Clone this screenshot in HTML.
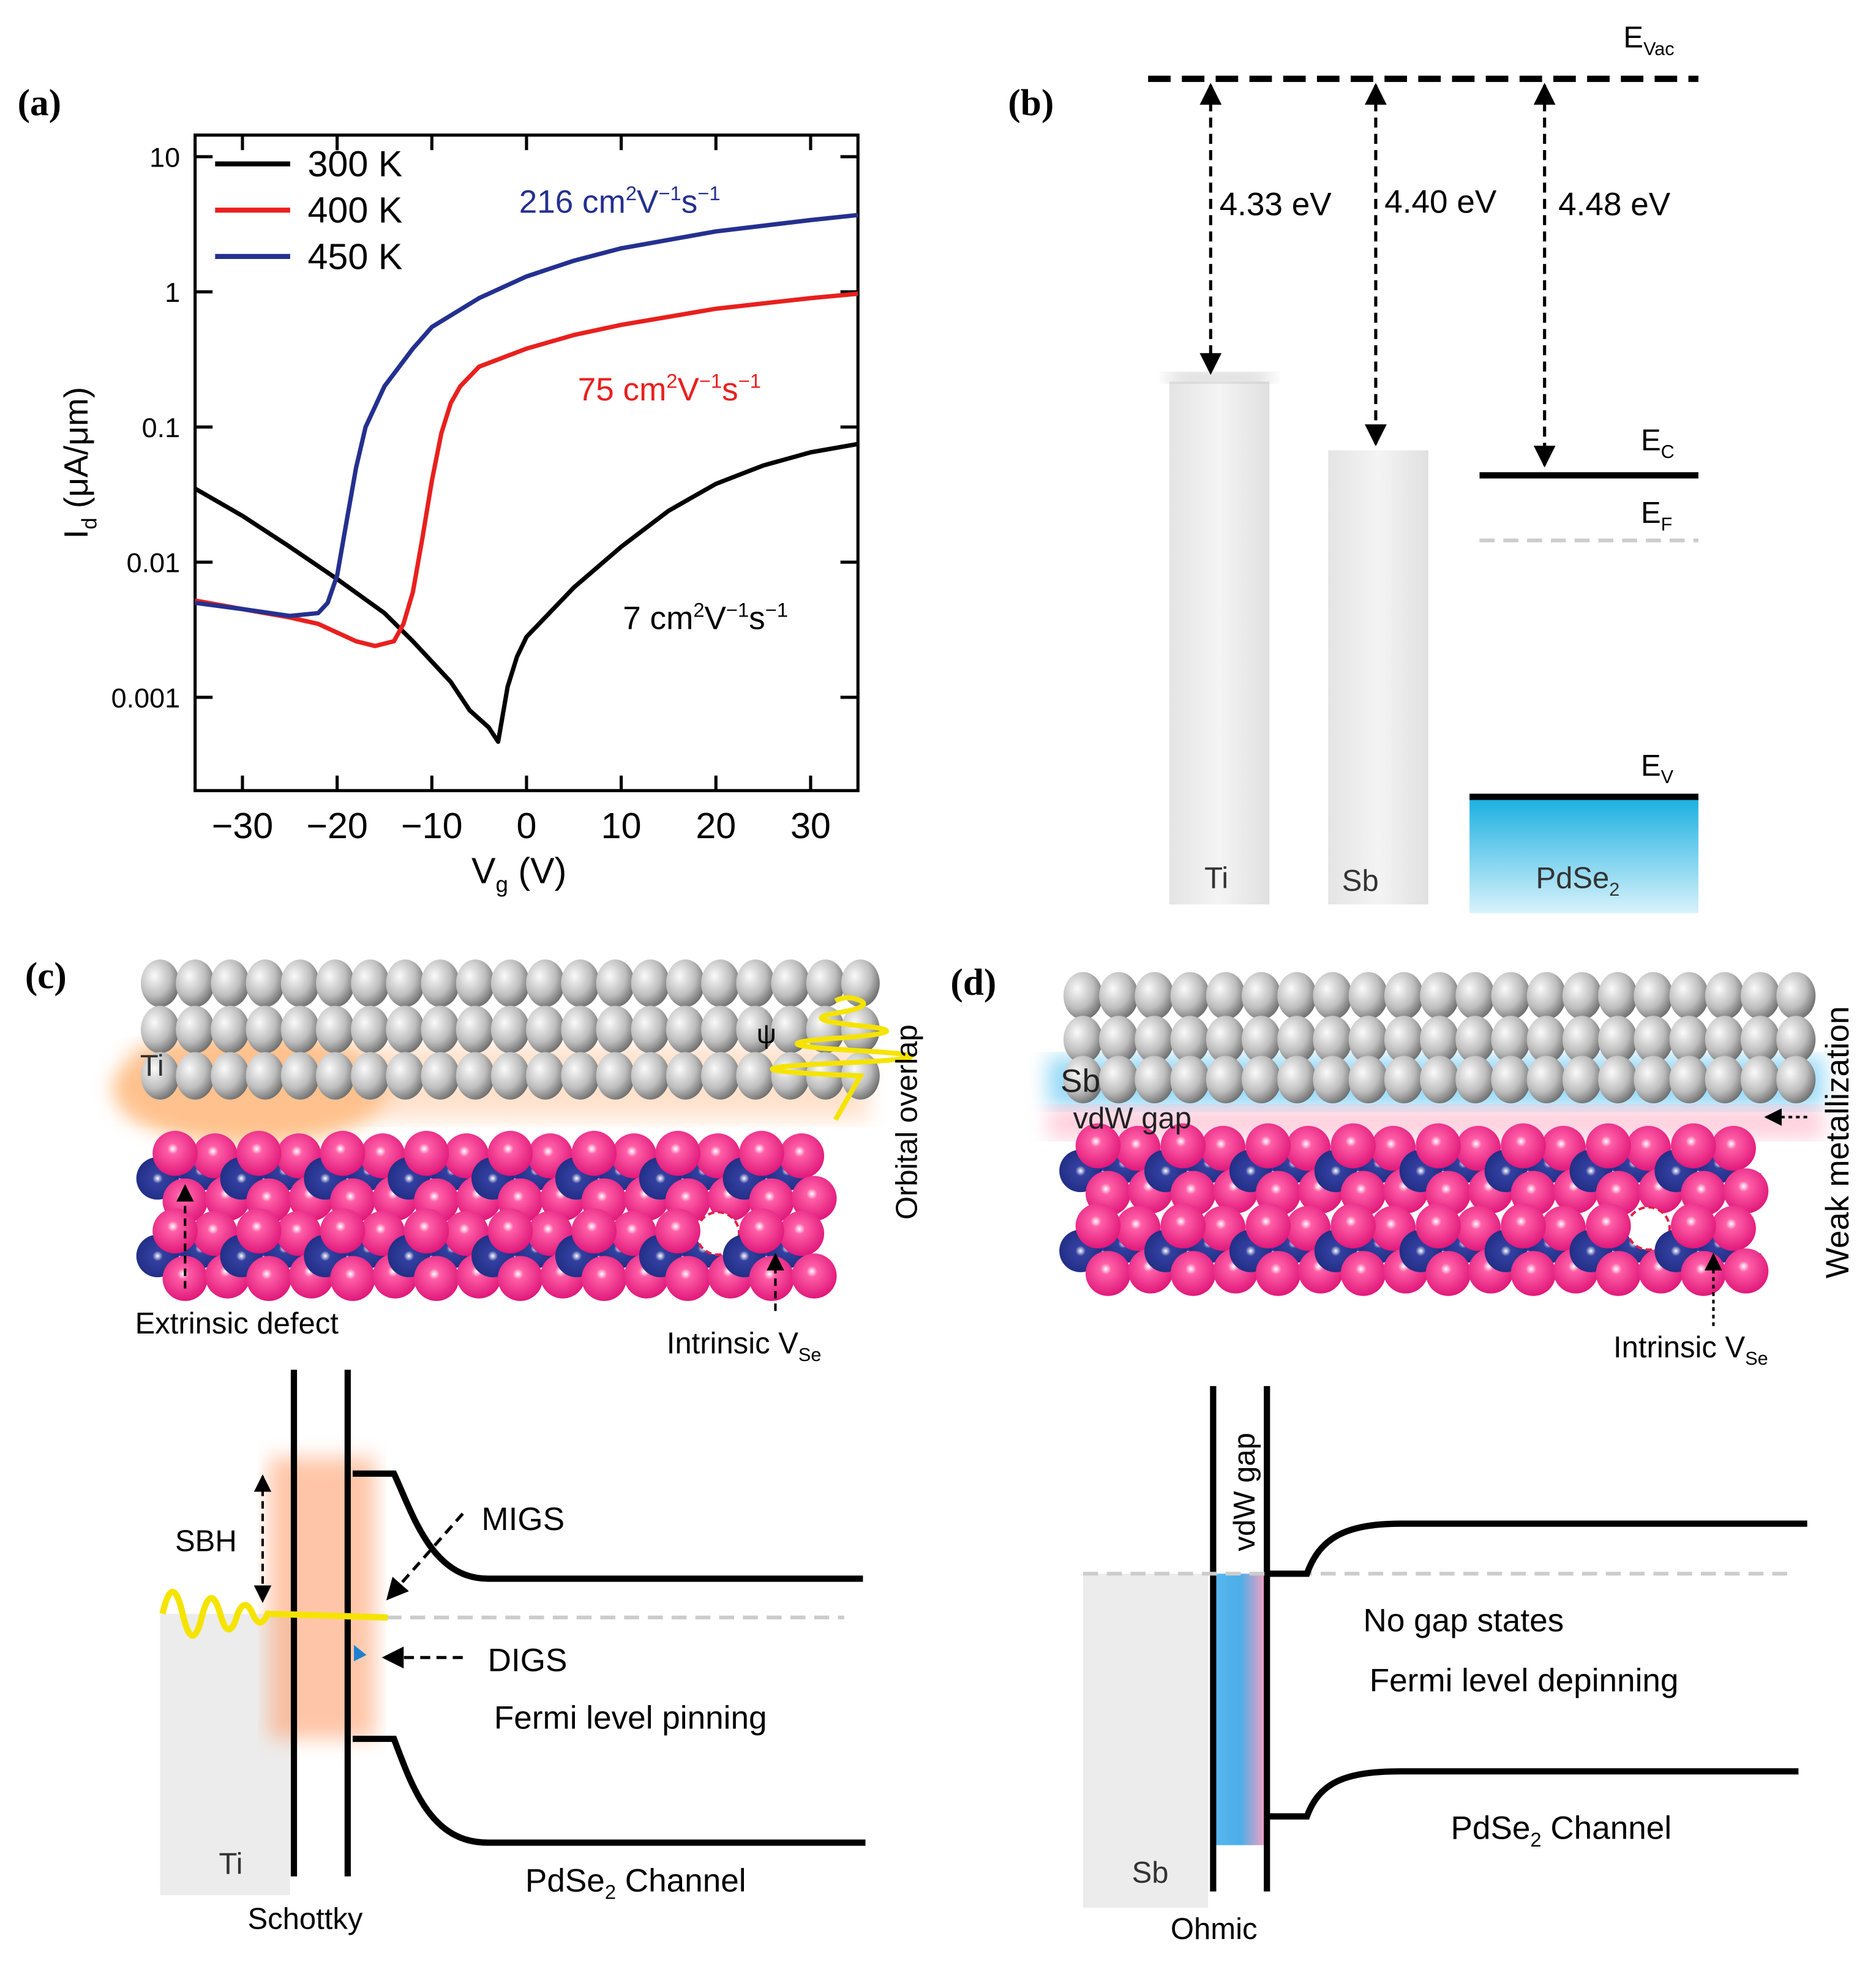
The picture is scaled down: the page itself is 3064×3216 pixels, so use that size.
<!DOCTYPE html>
<html><head><meta charset="utf-8"><style>
html,body{margin:0;padding:0;background:#fff}
svg{display:block}
text{font-family:"Liberation Sans",sans-serif}
.lbl{font-family:"Liberation Serif",serif;font-weight:bold;font-size:30px}
</style></head><body>
<svg id="fig" width="3064" height="3216" viewBox="0 0 1500 1574" preserveAspectRatio="none" xmlns="http://www.w3.org/2000/svg">
<defs>
<radialGradient id="gs" cx="0.35" cy="0.35" r="0.7"><stop offset="0" stop-color="#fafafa"/><stop offset="0.6" stop-color="#bdbdbd"/><stop offset="1" stop-color="#6f6f6f"/></radialGradient>
<radialGradient id="ps" cx="0.45" cy="0.4" r="0.6"><stop offset="0" stop-color="#fff"/><stop offset="0.2" stop-color="#ff5fa8"/><stop offset="1" stop-color="#e0187a"/></radialGradient>
<radialGradient id="bs" cx="0.5" cy="0.5" r="0.6"><stop offset="0" stop-color="#fff"/><stop offset="0.2" stop-color="#3340a0"/><stop offset="1" stop-color="#1e2a80"/></radialGradient>
<linearGradient id="blueg" x1="0" y1="0" x2="0" y2="1"><stop offset="0" stop-color="#1ab0e0"/><stop offset="1" stop-color="#d8f2fb"/></linearGradient>
<linearGradient id="barg" x1="0" y1="0" x2="1" y2="0"><stop offset="0" stop-color="#e4e4e4"/><stop offset="0.5" stop-color="#f4f4f4"/><stop offset="1" stop-color="#e0e0e0"/></linearGradient>
<linearGradient id="bandd" x1="0" y1="0" x2="1" y2="0"><stop offset="0" stop-color="#5ab8ee"/><stop offset="0.5" stop-color="#4aaee8"/><stop offset="1" stop-color="#ff9fc0"/></linearGradient>
<filter id="blur"><feGaussianBlur stdDeviation="8"/></filter>
<marker id="ah" viewBox="0 0 10 10" refX="9" refY="5" markerWidth="7" markerHeight="7" orient="auto-start-reverse"><path d="M0,0L10,5L0,10z" fill="#000"/></marker>
</defs>

<text class="lbl" x="14" y="92">(a)</text>
<g id="chartA"></g>

<g>
<text class="lbl" x="806" y="92">(b)</text>
<line x1="918" y1="63" x2="1358" y2="63" stroke="#000" stroke-width="5" stroke-dasharray="18,9"/>
<text x="1298" y="38" font-size="24">E<tspan font-size="15" dy="6">Vac</tspan></text>
<rect x="935" y="305" width="80" height="418" fill="url(#barg)"/>
<rect x="935" y="298" width="80" height="8" fill="#bbb" filter="url(#blur)"/>
<rect x="1062" y="360" width="80" height="363" fill="url(#barg)"/>
<line x1="968" y1="68" x2="968" y2="298" stroke="#000" stroke-width="2.5" stroke-dasharray="8,5" marker-start="url(#ah)" marker-end="url(#ah)"/>
<line x1="1100" y1="68" x2="1100" y2="355" stroke="#000" stroke-width="2.5" stroke-dasharray="8,5" marker-start="url(#ah)" marker-end="url(#ah)"/>
<line x1="1235" y1="68" x2="1235" y2="372" stroke="#000" stroke-width="2.5" stroke-dasharray="8,5" marker-start="url(#ah)" marker-end="url(#ah)"/>
<text x="975" y="172" font-size="26">4.33 eV</text>
<text x="1107" y="170" font-size="26">4.40 eV</text>
<text x="1246" y="172" font-size="26">4.48 eV</text>
<line x1="1183" y1="380" x2="1358" y2="380" stroke="#000" stroke-width="5"/>
<text x="1312" y="360" font-size="24">E<tspan font-size="15" dy="6">C</tspan></text>
<line x1="1183" y1="432" x2="1358" y2="432" stroke="#ccc" stroke-width="3" stroke-dasharray="12,7"/>
<text x="1312" y="418" font-size="24">E<tspan font-size="15" dy="6">F</tspan></text>
<rect x="1175" y="638" width="183" height="92" fill="url(#blueg)"/>
<line x1="1175" y1="637" x2="1358" y2="637" stroke="#000" stroke-width="5"/>
<text x="1312" y="620" font-size="24">E<tspan font-size="15" dy="6">V</tspan></text>
<text x="963" y="710" font-size="24" fill="#333">Ti</text>
<text x="1073" y="712" font-size="24" fill="#333">Sb</text>
<text x="1228" y="710" font-size="24" fill="#333">PdSe<tspan font-size="15" dy="6">2</tspan></text>
</g>

<g>
<text class="lbl" x="20" y="790">(c)</text>
<ellipse cx="200" cy="870" rx="110" ry="45" fill="#ff9a40" opacity="0.6" filter="url(#blur)"/>
<rect x="105" y="835" width="590" height="60" fill="#ffc090" opacity="0.45" filter="url(#blur)"/>
<g id="atomsC"></g>
<text x="112" y="860" font-size="24" fill="#333">Ti</text>
<text x="605" y="834" font-size="22">ψ</text>
<path d="M668,800 q10,-5 20,0 t-20,10 t20,10 t-20,10 t20,10 t-20,10 t20,10 L668,895" fill="none" stroke="#f5e400" stroke-width="4"/>
<text transform="translate(733,975) rotate(-90)" font-size="24">Orbital overlap</text>
<line x1="148" y1="1030" x2="148" y2="948" stroke="#000" stroke-width="2" stroke-dasharray="6,4" marker-end="url(#ah)"/>
<text x="108" y="1066" font-size="24">Extrinsic defect</text>
<line x1="620" y1="1048" x2="620" y2="1003" stroke="#000" stroke-width="2" stroke-dasharray="6,4" marker-end="url(#ah)"/>
<text x="533" y="1082" font-size="24">Intrinsic V<tspan font-size="15" dy="6">Se</tspan></text>
<rect x="128" y="1290" width="104" height="225" fill="#ececec"/>
<rect x="215" y="1165" width="85" height="225" fill="#ffa070" opacity="0.6" filter="url(#blur)"/>
<line x1="235" y1="1095" x2="235" y2="1500" stroke="#000" stroke-width="5"/>
<line x1="278" y1="1095" x2="278" y2="1500" stroke="#000" stroke-width="5"/>
<path d="M282,1178 L315,1178 C330,1210 345,1262 390,1262 L690,1262" fill="none" stroke="#000" stroke-width="5"/>
<path d="M282,1390 L315,1390 C330,1430 345,1473 390,1473 L692,1473" fill="none" stroke="#000" stroke-width="5"/>
<line x1="290" y1="1293" x2="675" y2="1293" stroke="#ccc" stroke-width="3" stroke-dasharray="12,7"/>
<path d="M130,1290 q8,-35 16,0 t16,0 q7,-25 14,0 t14,0 q6,-14 12,0 t12,0 L310,1293" fill="none" stroke="#f5e400" stroke-width="5"/>
<line x1="210" y1="1180" x2="210" y2="1280" stroke="#000" stroke-width="2" stroke-dasharray="6,4" marker-start="url(#ah)" marker-end="url(#ah)"/>
<text x="140" y="1240" font-size="24">SBH</text>
<line x1="370" y1="1210" x2="310" y2="1278" stroke="#000" stroke-width="2.5" stroke-dasharray="8,5" marker-end="url(#ah)"/>
<text x="385" y="1223" font-size="26">MIGS</text>
<line x1="370" y1="1325" x2="307" y2="1325" stroke="#000" stroke-width="2.5" stroke-dasharray="8,5" marker-end="url(#ah)"/>
<path d="M283,1315 l10,8 l-10,5 z" fill="#1e7fd0"/>
<text x="390" y="1336" font-size="26">DIGS</text>
<text x="395" y="1382" font-size="26">Fermi level pinning</text>
<text x="175" y="1498" font-size="24" fill="#333">Ti</text>
<text x="420" y="1512" font-size="26">PdSe<tspan font-size="16" dy="6">2</tspan><tspan dy="-6"> Channel</tspan></text>
<text x="198" y="1542" font-size="24">Schottky</text>
</g>

<g>
<text class="lbl" x="760" y="795">(d)</text>
<rect x="838" y="845" width="620" height="40" fill="#7fd0f5" opacity="0.8" filter="url(#blur)"/>
<rect x="838" y="885" width="620" height="25" fill="#ffb0c8" opacity="0.6" filter="url(#blur)"/>
<g id="atomsD"></g>
<text x="848" y="873" font-size="26" fill="#222">Sb</text>
<text x="858" y="902" font-size="24" fill="#222">vdW gap</text>
<line x1="1445" y1="893" x2="1412" y2="893" stroke="#000" stroke-width="2" stroke-dasharray="3,3" marker-end="url(#ah)"/>
<text transform="translate(1478,1022) rotate(-90)" font-size="26">Weak metallization</text>
<line x1="1370" y1="1060" x2="1370" y2="1003" stroke="#000" stroke-width="2" stroke-dasharray="3,3" marker-end="url(#ah)"/>
<text x="1290" y="1085" font-size="24">Intrinsic V<tspan font-size="15" dy="6">Se</tspan></text>
<rect x="866" y="1258" width="100" height="267" fill="#ececec"/>
<rect x="970" y="1258" width="43" height="217" fill="url(#bandd)"/>
<line x1="970" y1="1108" x2="970" y2="1512" stroke="#000" stroke-width="5"/>
<line x1="1013" y1="1108" x2="1013" y2="1512" stroke="#000" stroke-width="5"/>
<text transform="translate(1003,1240) rotate(-90)" font-size="24">vdW gap</text>
<line x1="866" y1="1258" x2="1430" y2="1258" stroke="#ccc" stroke-width="3" stroke-dasharray="12,7"/>
<path d="M1015,1258 L1045,1258 C1055,1230 1075,1218 1120,1218 L1445,1218" fill="none" stroke="#000" stroke-width="5"/>
<path d="M1015,1452 L1045,1452 C1055,1425 1075,1416 1120,1416 L1438,1416" fill="none" stroke="#000" stroke-width="5"/>
<text x="1090" y="1304" font-size="26">No gap states</text>
<text x="1095" y="1352" font-size="26">Fermi level depinning</text>
<text x="1160" y="1470" font-size="26">PdSe<tspan font-size="16" dy="6">2</tspan><tspan dy="-6"> Channel</tspan></text>
<text x="905" y="1505" font-size="24" fill="#333">Sb</text>
<text x="936" y="1550" font-size="24">Ohmic</text>
</g>
</svg>
<script>
const xTicks = [-30, -20, -10, 0, 10, 20, 30];
const yTicks = [10, 1, 0.1, 0.01, 0.001];
const yTickLabels = ["10", "1", "0.1", "0.01", "0.001"];
const seriesNames = ["300 K", "400 K", "450 K"];
const seriesColors = ["#000000", "#e8201e", "#24308f"];
const vg300 = [-35,-30,-25,-20,-15,-12,-8,-6,-4,-3,-2,-1,0,5,10,15,20,25,30,35];
const id300 = [0.035,0.022,0.013,0.0075,0.0042,0.0026,0.0013,0.0008,0.0006,0.00047,0.0012,0.002,0.0028,0.0065,0.013,0.024,0.038,0.052,0.065,0.075];
const vg400 = [-35,-30,-25,-22,-18,-16,-14,-13,-12,-11,-10,-9,-8,-7,-5,0,5,10,20,30,35];
const id400 = [0.0052,0.0045,0.0039,0.0035,0.0026,0.0024,0.0026,0.0035,0.006,0.015,0.04,0.09,0.15,0.2,0.28,0.38,0.48,0.57,0.75,0.9,0.97];
const vg450 = [-35,-30,-25,-22,-21,-20,-19,-18,-17,-15,-12,-10,-5,0,5,10,20,30,35];
const id450 = [0.005,0.0045,0.004,0.0042,0.005,0.008,0.02,0.05,0.1,0.2,0.38,0.55,0.9,1.3,1.7,2.1,2.8,3.4,3.7];
const NS = "http://www.w3.org/2000/svg";
const L = 156, R = 686, T = 108, B = 632;
const xMin = -35, xMax = 35, yLogMax = 1.16, yLogMin = -3.69;
function xs(v){ return L + (v - xMin) / (xMax - xMin) * (R - L); }
function ys(v){ return T + (yLogMax - Math.log10(v)) / (yLogMax - yLogMin) * (B - T); }
function mk(tag, attrs, parent){ const e = document.createElementNS(NS, tag); for (const k in attrs) e.setAttribute(k, attrs[k]); parent.appendChild(e); return e; }
const g = document.getElementById('chartA');
const box = mk('rect', {x:L, y:T, width:R-L, height:B-T, fill:'none', stroke:'#000', 'stroke-width':2.5}, g);


xTicks.forEach(function(v){
  const x = xs(v);
  mk('line', {x1:x, y1:B, x2:x, y2:B-12, stroke:'#000', 'stroke-width':2.5}, g);
  mk('line', {x1:x, y1:T, x2:x, y2:T+12, stroke:'#000', 'stroke-width':2.5}, g);
  const t = mk('text', {x:x, y:B+38, 'font-size':29, 'text-anchor':'middle'}, g);
  t.textContent = (v < 0 ? '\u2212' + (-v) : String(v));
  
  
});
yTicks.forEach(function(v, i){
  const y = ys(v);
  mk('line', {x1:L, y1:y, x2:L+14, y2:y, stroke:'#000', 'stroke-width':2.5}, g);
  mk('line', {x1:R, y1:y, x2:R-14, y2:y, stroke:'#000', 'stroke-width':2.5}, g);
  const t = mk('text', {x:L-12, y:y+8, 'font-size':22, 'text-anchor':'end'}, g);
  t.textContent = yTickLabels[i];
  
  
});
const xt = mk('text', {x:415, y:706, 'font-size':29, 'text-anchor':'middle'}, g);
xt.innerHTML = 'V<tspan font-size="18" dy="7">g</tspan><tspan dy="-7"> (V)</tspan>';


const yt = mk('text', {transform:'translate(70,370) rotate(-90)', 'font-size':27, 'text-anchor':'middle'}, g);
yt.innerHTML = 'I<tspan font-size="17" dy="7">d</tspan><tspan dy="-7"> (\u03bcA/\u03bcm)</tspan>';


const allX = [vg300, vg400, vg450], allY = [id300, id400, id450];
const seriesKeys = ['series-300k', 'series-400k', 'series-450k'];
[0,1,2].forEach(function(s){
  let d = '';
  allX[s].forEach(function(v, i){ d += (i ? 'L' : 'M') + xs(v).toFixed(1) + ',' + ys(allY[s][i]).toFixed(1); });
  const p = mk('path', {d:d, fill:'none', stroke:seriesColors[s], 'stroke-width':3.5, 'stroke-linejoin':'round'}, g);
  
  
  const ly = 131 + s*37;
  mk('line', {x1:172, y1:ly, x2:232, y2:ly, stroke:seriesColors[s], 'stroke-width':4}, g);
  const lt = mk('text', {x:246, y:ly+10, 'font-size':29}, g);
  lt.textContent = seriesNames[s];
  
  
});
function ann(x, y, color, num, name){
  const t = mk('text', {x:x, y:y, 'font-size':26, fill:color}, g);
  t.innerHTML = num + ' cm<tspan font-size="16" dy="-10">2</tspan><tspan dy="10">V</tspan><tspan font-size="16" dy="-10">\u22121</tspan><tspan dy="10">s</tspan><tspan font-size="16" dy="-10">\u22121</tspan>';
  
  
}
ann(415, 170, seriesColors[2], '216', 'mobility-450k');
ann(462, 320, seriesColors[1], '75', 'mobility-400k');
ann(498, 503, '#000', '7', 'mobility-300k');

function atoms(id, x0, n, step, rows, layerY, nPer, per){
  const p = document.getElementById(id);
  rows.forEach(function(y){
    for (let i = 0; i < n; i++) mk('ellipse', {cx:x0 + i*step, cy:y, rx:step*0.55, ry:19, fill:'url(#gs)'}, p);
  });
  layerY.forEach(function(y, li){
    for (let i = 0; i < nPer; i++){
      const bx = x0 - 2 + i*per;
      mk('line', {x1:bx, y1:y, x2:bx+per, y2:y+8, stroke:'#2838a0', 'stroke-width':4}, p);
      mk('circle', {cx:bx, cy:y+4, r:17, fill:'url(#bs)'}, p);
      mk('circle', {cx:bx+34, cy:y-2, r:16, fill:'url(#bs)'}, p);
      const vac = (li === 1 && i === nPer-2);
      if (vac) mk('circle', {cx:bx+46, cy:y-14, r:17, fill:'#fff', stroke:'#e0204a', 'stroke-width':2, 'stroke-dasharray':'5,3'}, p);
      else mk('circle', {cx:bx+46, cy:y-14, r:18, fill:'url(#ps)'}, p);
      mk('circle', {cx:bx+14, cy:y-16, r:18, fill:'url(#ps)'}, p);
      mk('circle', {cx:bx+22, cy:y+22, r:18, fill:'url(#ps)'}, p);
      mk('circle', {cx:bx+56, cy:y+20, r:18, fill:'url(#ps)'}, p);
    }
  });
}
atoms('atomsC', 128, 21, 28, [786, 823, 860], [938, 1000], 8, 67);
atoms('atomsD', 866, 21, 28.5, [796, 831, 863], [932, 996], 8, 68);
document.getElementById('atomsC');
document.getElementById('atomsC');
document.getElementById('atomsD');
document.getElementById('atomsD');
</script>
</body></html>
